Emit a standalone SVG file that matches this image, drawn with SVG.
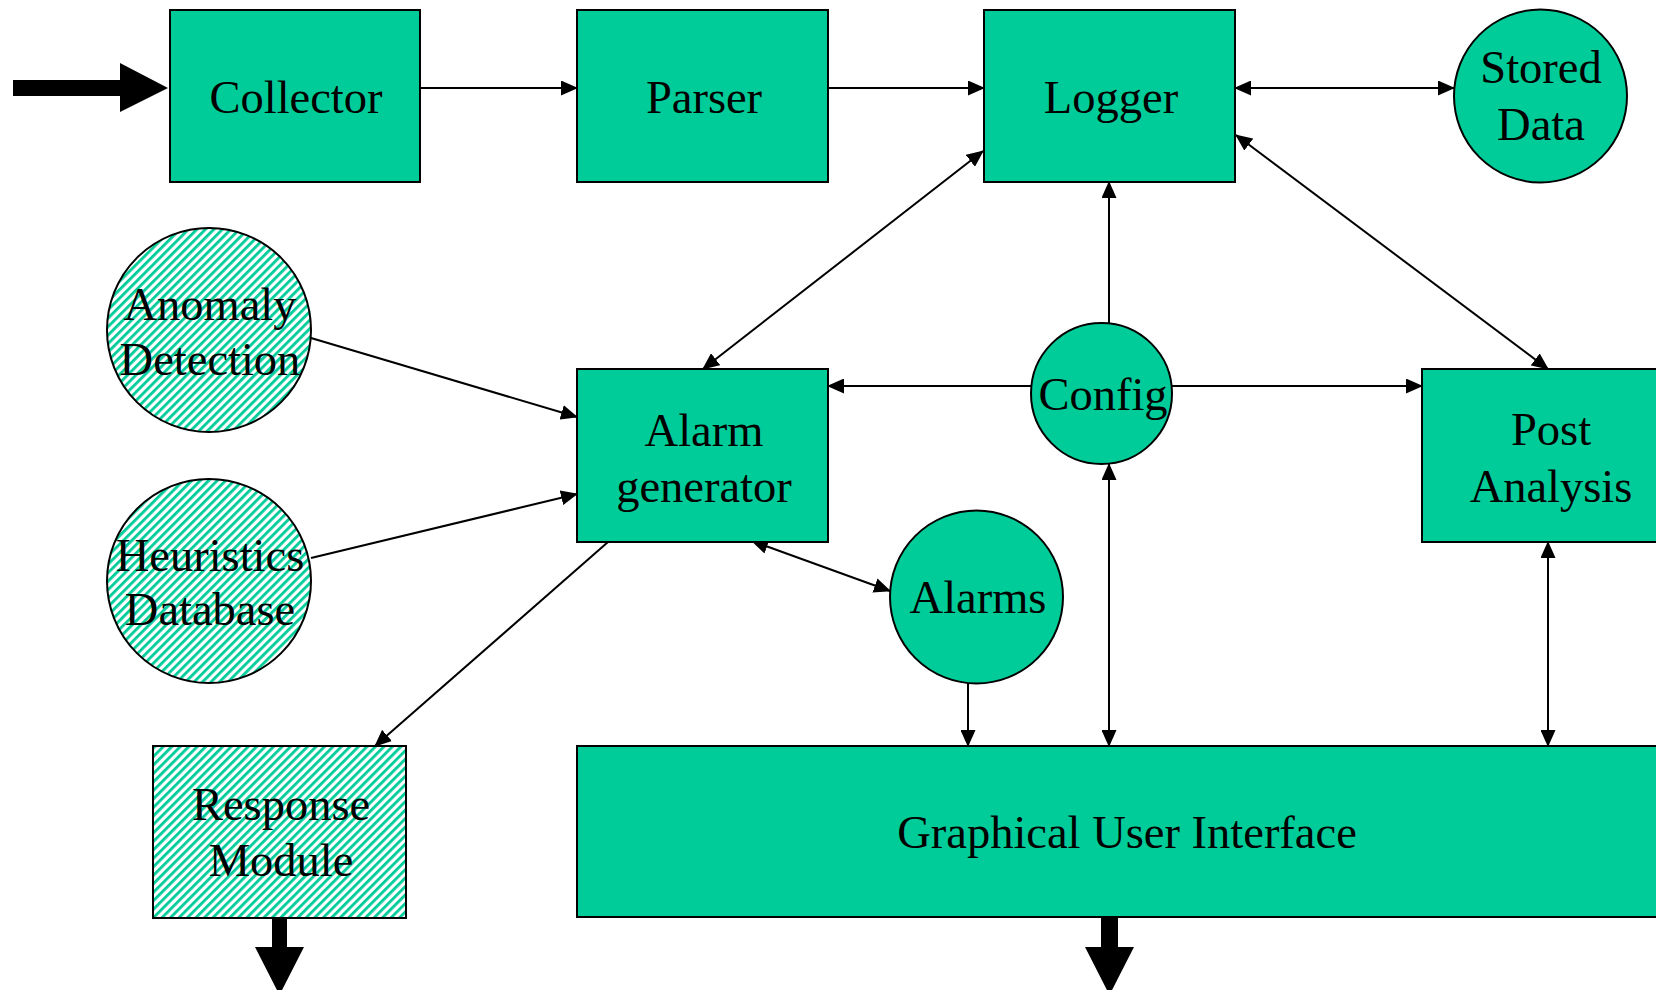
<svg xmlns="http://www.w3.org/2000/svg" width="1656" height="990" viewBox="0 0 1656 990">
  <defs>
    <pattern id="hatch" width="6" height="6" patternUnits="userSpaceOnUse" patternTransform="rotate(45)">
      <rect width="6" height="6" fill="#ffffff"/>
      <rect width="2.8" height="6" fill="#00cc99"/>
    </pattern>
    <marker id="arr" markerWidth="17" markerHeight="15" refX="16" refY="7.5" orient="auto-start-reverse" markerUnits="userSpaceOnUse">
      <path d="M0,0 L17,7.5 L0,15 z" fill="#000"/>
    </marker>
    <style>
      .box { fill: #00cc99; stroke: #000; stroke-width: 2; }
      .hatched { fill: url(#hatch); stroke: #000; stroke-width: 2; }
      .lbl { font-family: "Liberation Serif", "Times New Roman", serif; font-size: 46.5px; fill: #000; text-anchor: middle; }
      .link { stroke: #000; stroke-width: 2; fill: none; }
      .one { marker-end: url(#arr); }
      .two { marker-start: url(#arr); marker-end: url(#arr); }
      .fat { fill: #000; }
    </style>
  </defs>

  <rect width="1656" height="990" fill="#ffffff"/>

  <!-- connectors -->
  <g id="connectors">
    <line class="link one" x1="420" y1="88" x2="577" y2="88"/>
    <line class="link one" x1="828" y1="88" x2="984" y2="88"/>
    <line class="link two" x1="1235" y1="88" x2="1454" y2="88"/>
    <line class="link two" x1="983" y1="151" x2="703" y2="369"/>
    <line class="link two" x1="1236" y1="135" x2="1548" y2="369"/>
    <line class="link one" x1="1109" y1="323" x2="1109" y2="182"/>
    <line class="link one" x1="1031" y1="386" x2="828" y2="386"/>
    <line class="link one" x1="1172" y1="386" x2="1422" y2="386"/>
    <line class="link two" x1="1109" y1="464" x2="1109" y2="746"/>
    <line class="link one" x1="311" y1="338" x2="577" y2="417"/>
    <line class="link one" x1="311" y1="558" x2="577" y2="494"/>
    <line class="link two" x1="752" y1="541" x2="890" y2="591"/>
    <line class="link one" x1="608" y1="542" x2="375" y2="746"/>
    <line class="link one" x1="968" y1="683" x2="968" y2="746"/>
    <line class="link two" x1="1548" y1="542" x2="1548" y2="746"/>
    <!-- heavy flow arrows -->
    <path class="fat" d="M13,80 L120,80 L120,63 L168,88 L120,112 L120,96 L13,96 z"/>
    <path class="fat" d="M272,918 L287,918 L287,947 L304,947 L279.5,995 L255,947 L272,947 z"/>
    <path class="fat" d="M1101,917 L1118,917 L1118,947 L1134,947 L1109.5,995 L1085,947 L1101,947 z"/>
  </g>

  <g id="collector">
    <rect class="box" x="170" y="10" width="250" height="172"/>
    <text class="lbl" x="296" y="113">Collector</text>
  </g>
  <g id="parser">
    <rect class="box" x="577" y="10" width="251" height="172"/>
    <text class="lbl" x="704" y="113">Parser</text>
  </g>
  <g id="logger">
    <rect class="box" x="984" y="10" width="251" height="172"/>
    <text class="lbl" x="1111" y="113">Logger</text>
  </g>
  <g id="stored-data">
    <circle class="box" cx="1540.5" cy="96" r="86.5"/>
    <text class="lbl" x="1541" y="83">Stored</text>
    <text class="lbl" x="1541" y="140">Data</text>
  </g>
  <g id="anomaly-detection">
    <circle class="hatched" cx="209" cy="330" r="102"/>
    <text class="lbl" x="210" y="320">Anomaly</text>
    <text class="lbl" x="210" y="375">Detection</text>
  </g>
  <g id="heuristics-database">
    <circle class="hatched" cx="209" cy="581" r="102"/>
    <text class="lbl" x="210" y="571">Heuristics</text>
    <text class="lbl" x="210" y="625">Database</text>
  </g>
  <g id="alarm-generator">
    <rect class="box" x="577" y="369" width="251" height="173"/>
    <text class="lbl" x="704" y="446">Alarm</text>
    <text class="lbl" x="704" y="502">generator</text>
  </g>
  <g id="config">
    <circle class="box" cx="1101.5" cy="393.5" r="70.5"/>
    <text class="lbl" x="1103" y="410">Config</text>
  </g>
  <g id="post-analysis">
    <rect class="box" x="1422" y="369" width="254" height="173"/>
    <text class="lbl" x="1551" y="445">Post</text>
    <text class="lbl" x="1551" y="502">Analysis</text>
  </g>
  <g id="alarms">
    <circle class="box" cx="976.5" cy="597" r="86.5"/>
    <text class="lbl" x="978" y="613">Alarms</text>
  </g>
  <g id="response-module">
    <rect class="hatched" x="153" y="746" width="253" height="172"/>
    <text class="lbl" x="281" y="820">Response</text>
    <text class="lbl" x="281" y="876">Module</text>
  </g>
  <g id="gui">
    <rect class="box" x="577" y="746" width="1100" height="171"/>
    <text class="lbl" x="1127" y="848">Graphical User Interface</text>
  </g>
</svg>
